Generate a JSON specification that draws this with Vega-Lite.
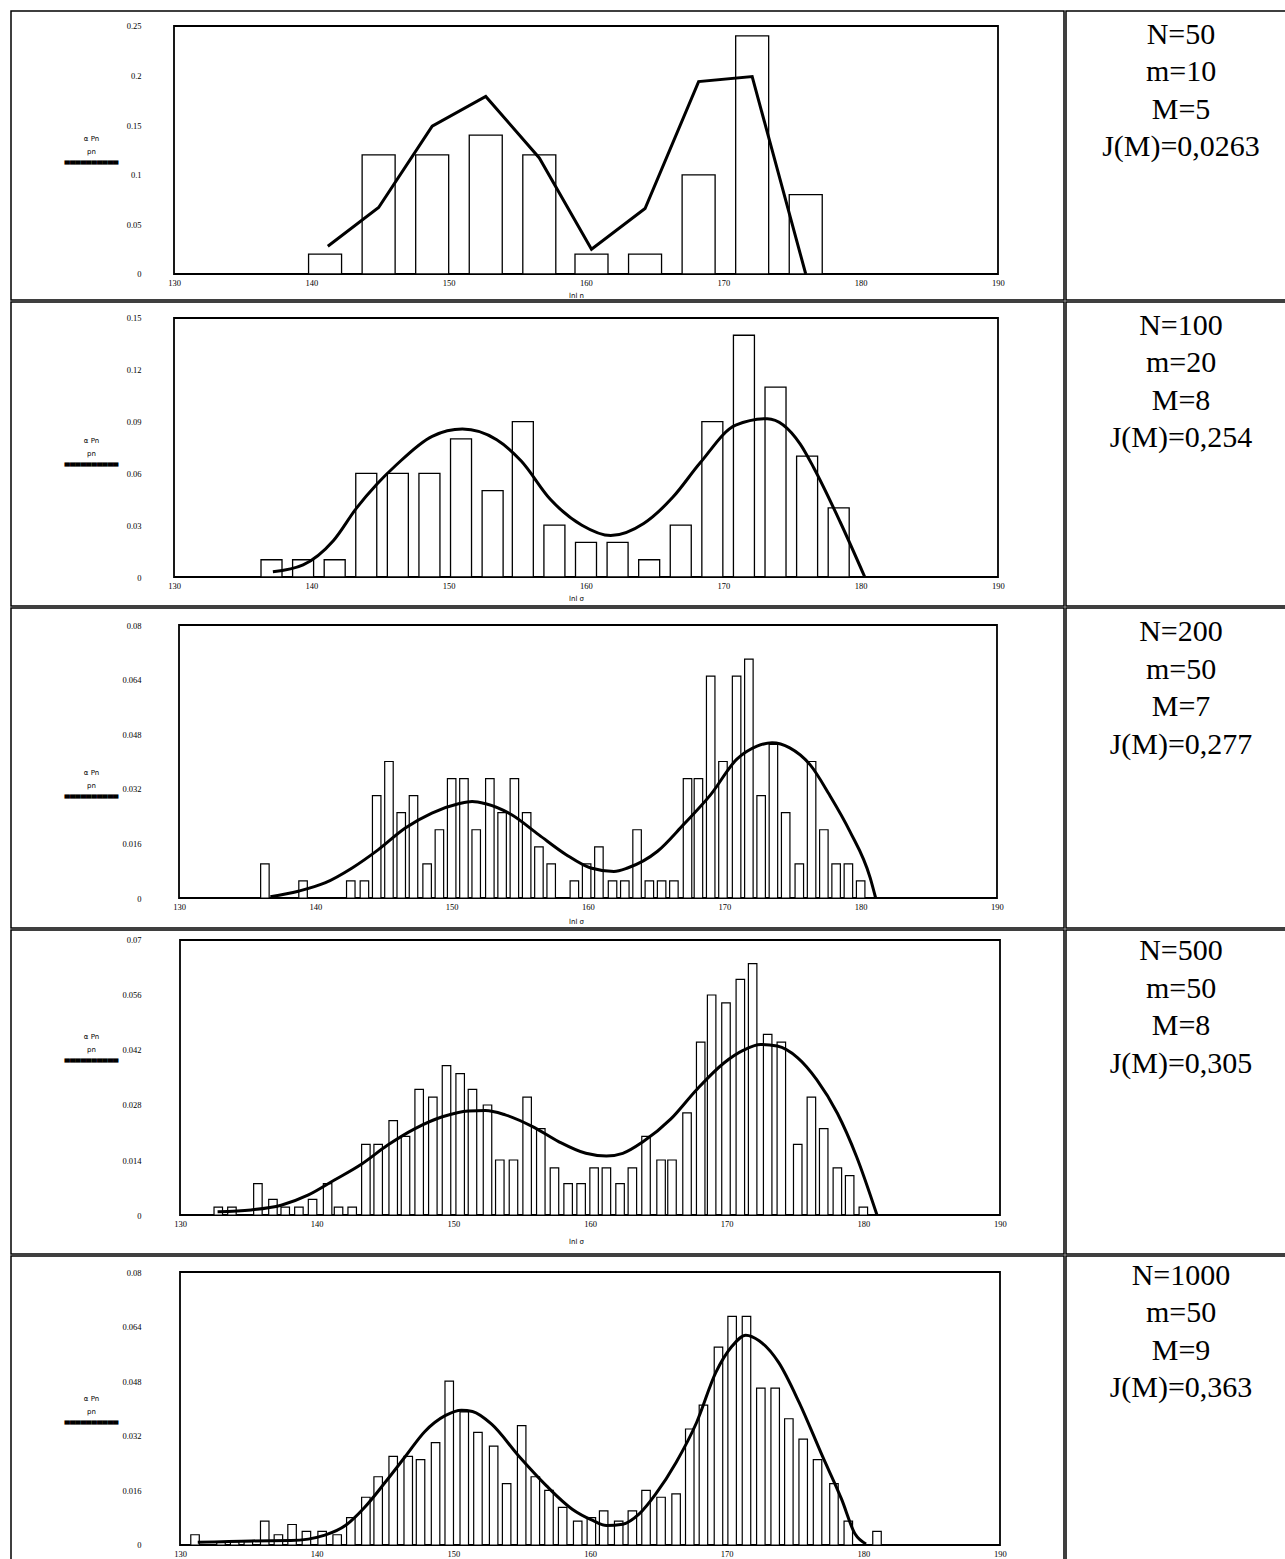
{
  "$schema": "https://vega.github.io/schema/vega-lite/v6.json",
  "background": "white",
  "padding": {"left": 10, "top": 10, "right": 0, "bottom": 0},
  "spacing": 0,
  "config": {
    "view": {"stroke": "black", "strokeWidth": 1.5},
    "concat": {"spacing": 0},
    "scale": {"continuousPadding": 0},
    "axis": {"zindex": 2, "domain": false, "ticks": false, "grid": false, "labelFont": "Liberation Serif", "labelFontSize": 8.5, "labelColor": "black", "titleFont": "DejaVu Sans", "titleFontWeight": "normal", "titleFontSize": 7, "titleColor": "black", "labelAngle": 0}
  },
  "datasets": {
    "hist": [
      {"row":1,"x":141.0,"p":0.02},{"row":1,"x":144.9,"p":0.12},{"row":1,"x":148.8,"p":0.12},{"row":1,"x":152.7,"p":0.14},{"row":1,"x":156.6,"p":0.12},{"row":1,"x":160.4,"p":0.02},{"row":1,"x":164.3,"p":0.02},{"row":1,"x":168.2,"p":0.10},{"row":1,"x":172.1,"p":0.24},{"row":1,"x":176.0,"p":0.08},
      {"row":2,"x":137.1,"p":0.01},{"row":2,"x":139.4,"p":0.01},{"row":2,"x":141.7,"p":0.01},{"row":2,"x":144.0,"p":0.06},{"row":2,"x":146.3,"p":0.06},{"row":2,"x":148.6,"p":0.06},{"row":2,"x":150.9,"p":0.08},{"row":2,"x":153.2,"p":0.05},{"row":2,"x":155.4,"p":0.09},{"row":2,"x":157.7,"p":0.03},{"row":2,"x":160.0,"p":0.02},{"row":2,"x":162.3,"p":0.02},{"row":2,"x":164.6,"p":0.01},{"row":2,"x":166.9,"p":0.03},{"row":2,"x":169.2,"p":0.09},{"row":2,"x":171.5,"p":0.14},{"row":2,"x":173.8,"p":0.11},{"row":2,"x":176.1,"p":0.07},{"row":2,"x":178.4,"p":0.04},
      {"row":3,"x":136.3,"p":0.01},{"row":3,"x":139.1,"p":0.005},{"row":3,"x":142.6,"p":0.005},{"row":3,"x":143.6,"p":0.005},{"row":3,"x":144.5,"p":0.03},{"row":3,"x":145.4,"p":0.04},{"row":3,"x":146.3,"p":0.025},{"row":3,"x":147.2,"p":0.03},{"row":3,"x":148.2,"p":0.01},{"row":3,"x":149.1,"p":0.02},{"row":3,"x":150.0,"p":0.035},{"row":3,"x":150.9,"p":0.035},{"row":3,"x":151.8,"p":0.02},{"row":3,"x":152.8,"p":0.035},{"row":3,"x":153.7,"p":0.025},{"row":3,"x":154.6,"p":0.035},{"row":3,"x":155.5,"p":0.025},{"row":3,"x":156.4,"p":0.015},{"row":3,"x":157.3,"p":0.01},{"row":3,"x":159.0,"p":0.005},{"row":3,"x":159.9,"p":0.01},{"row":3,"x":160.8,"p":0.015},{"row":3,"x":161.8,"p":0.005},{"row":3,"x":162.7,"p":0.005},{"row":3,"x":163.6,"p":0.02},{"row":3,"x":164.5,"p":0.005},{"row":3,"x":165.4,"p":0.005},{"row":3,"x":166.3,"p":0.005},{"row":3,"x":167.3,"p":0.035},{"row":3,"x":168.1,"p":0.035},{"row":3,"x":169.0,"p":0.065},{"row":3,"x":169.9,"p":0.04},{"row":3,"x":170.9,"p":0.065},{"row":3,"x":171.8,"p":0.07},{"row":3,"x":172.7,"p":0.03},{"row":3,"x":173.6,"p":0.045},{"row":3,"x":174.5,"p":0.025},{"row":3,"x":175.5,"p":0.01},{"row":3,"x":176.4,"p":0.04},{"row":3,"x":177.3,"p":0.02},{"row":3,"x":178.2,"p":0.01},{"row":3,"x":179.1,"p":0.01},{"row":3,"x":180.0,"p":0.005},
      {"row":4,"x":132.8,"p":0.002},{"row":4,"x":133.8,"p":0.002},{"row":4,"x":135.7,"p":0.008},{"row":4,"x":136.8,"p":0.004},{"row":4,"x":137.7,"p":0.002},{"row":4,"x":138.7,"p":0.002},{"row":4,"x":139.7,"p":0.004},{"row":4,"x":140.8,"p":0.008},{"row":4,"x":141.6,"p":0.002},{"row":4,"x":142.6,"p":0.002},{"row":4,"x":143.6,"p":0.018},{"row":4,"x":144.5,"p":0.018},{"row":4,"x":145.6,"p":0.024},{"row":4,"x":146.5,"p":0.02},{"row":4,"x":147.5,"p":0.032},{"row":4,"x":148.5,"p":0.03},{"row":4,"x":149.5,"p":0.038},{"row":4,"x":150.5,"p":0.036},{"row":4,"x":151.4,"p":0.032},{"row":4,"x":152.5,"p":0.028},{"row":4,"x":153.4,"p":0.014},{"row":4,"x":154.4,"p":0.014},{"row":4,"x":155.4,"p":0.03},{"row":4,"x":156.4,"p":0.022},{"row":4,"x":157.4,"p":0.012},{"row":4,"x":158.4,"p":0.008},{"row":4,"x":159.35,"p":0.008},{"row":4,"x":160.3,"p":0.012},{"row":4,"x":161.2,"p":0.012},{"row":4,"x":162.2,"p":0.008},{"row":4,"x":163.1,"p":0.012},{"row":4,"x":164.1,"p":0.02},{"row":4,"x":165.2,"p":0.014},{"row":4,"x":166.0,"p":0.014},{"row":4,"x":167.1,"p":0.026},{"row":4,"x":168.1,"p":0.044},{"row":4,"x":168.9,"p":0.056},{"row":4,"x":169.95,"p":0.054},{"row":4,"x":171.0,"p":0.06},{"row":4,"x":171.9,"p":0.064},{"row":4,"x":173.0,"p":0.046},{"row":4,"x":174.0,"p":0.044},{"row":4,"x":175.2,"p":0.018},{"row":4,"x":176.2,"p":0.03},{"row":4,"x":177.1,"p":0.022},{"row":4,"x":178.1,"p":0.012},{"row":4,"x":179.0,"p":0.01},{"row":4,"x":180.0,"p":0.002},
      {"row":5,"x":131.1,"p":0.003},{"row":5,"x":133.0,"p":0.001},{"row":5,"x":134.0,"p":0.001},{"row":5,"x":135.0,"p":0.001},{"row":5,"x":136.2,"p":0.007},{"row":5,"x":137.2,"p":0.003},{"row":5,"x":138.2,"p":0.006},{"row":5,"x":139.25,"p":0.004},{"row":5,"x":140.4,"p":0.004},{"row":5,"x":141.5,"p":0.003},{"row":5,"x":142.5,"p":0.008},{"row":5,"x":143.6,"p":0.014},{"row":5,"x":144.5,"p":0.02},{"row":5,"x":145.6,"p":0.026},{"row":5,"x":146.7,"p":0.026},{"row":5,"x":147.6,"p":0.025},{"row":5,"x":148.7,"p":0.03},{"row":5,"x":149.7,"p":0.048},{"row":5,"x":150.8,"p":0.039},{"row":5,"x":151.8,"p":0.033},{"row":5,"x":152.95,"p":0.029},{"row":5,"x":153.9,"p":0.018},{"row":5,"x":155.0,"p":0.035},{"row":5,"x":156.0,"p":0.02},{"row":5,"x":157.0,"p":0.016},{"row":5,"x":158.0,"p":0.011},{"row":5,"x":159.1,"p":0.007},{"row":5,"x":160.1,"p":0.008},{"row":5,"x":161.0,"p":0.01},{"row":5,"x":162.1,"p":0.007},{"row":5,"x":163.1,"p":0.01},{"row":5,"x":164.1,"p":0.016},{"row":5,"x":165.2,"p":0.014},{"row":5,"x":166.3,"p":0.015},{"row":5,"x":167.3,"p":0.034},{"row":5,"x":168.3,"p":0.041},{"row":5,"x":169.4,"p":0.058},{"row":5,"x":170.4,"p":0.067},{"row":5,"x":171.45,"p":0.067},{"row":5,"x":172.5,"p":0.046},{"row":5,"x":173.55,"p":0.046},{"row":5,"x":174.55,"p":0.037},{"row":5,"x":175.6,"p":0.031},{"row":5,"x":176.65,"p":0.025},{"row":5,"x":177.85,"p":0.018},{"row":5,"x":178.9,"p":0.007},{"row":5,"x":181.0,"p":0.004}
    ],
    "curve": [
      {"row":1,"x":141.2,"p":0.028},{"row":1,"x":144.9,"p":0.067},{"row":1,"x":148.8,"p":0.149},{"row":1,"x":152.7,"p":0.179},{"row":1,"x":156.6,"p":0.117},{"row":1,"x":160.4,"p":0.025},{"row":1,"x":164.3,"p":0.066},{"row":1,"x":168.2,"p":0.194},{"row":1,"x":172.1,"p":0.199},{"row":1,"x":176.0,"p":0.0},
      {"row":2,"x":137.2,"p":0.003},{"row":2,"x":139.4,"p":0.007},{"row":2,"x":141.6,"p":0.021},{"row":2,"x":143.3,"p":0.040},{"row":2,"x":144.8,"p":0.054},{"row":2,"x":146.2,"p":0.065},{"row":2,"x":148.8,"p":0.0815},{"row":2,"x":151.0,"p":0.0857},{"row":2,"x":153.5,"p":0.0795},{"row":2,"x":155.3,"p":0.067},{"row":2,"x":157.4,"p":0.045},{"row":2,"x":159.7,"p":0.030},{"row":2,"x":161.8,"p":0.024},{"row":2,"x":164.2,"p":0.031},{"row":2,"x":166.3,"p":0.046},{"row":2,"x":168.3,"p":0.066},{"row":2,"x":170.9,"p":0.088},{"row":2,"x":173.2,"p":0.0917},{"row":2,"x":175.6,"p":0.077},{"row":2,"x":176.6,"p":0.063},{"row":2,"x":178.5,"p":0.032},{"row":2,"x":180.3,"p":0.0},
      {"row":3,"x":136.7,"p":0.0004},{"row":3,"x":138.75,"p":0.002},{"row":3,"x":140.7,"p":0.0044},{"row":3,"x":142.7,"p":0.0088},{"row":3,"x":144.6,"p":0.0141},{"row":3,"x":146.6,"p":0.0205},{"row":3,"x":148.55,"p":0.0249},{"row":3,"x":150.5,"p":0.0276},{"row":3,"x":151.5,"p":0.0283},{"row":3,"x":152.5,"p":0.0276},{"row":3,"x":154.4,"p":0.0244},{"row":3,"x":156.4,"p":0.0185},{"row":3,"x":158.4,"p":0.0127},{"row":3,"x":160.2,"p":0.0088},{"row":3,"x":161.9,"p":0.0078},{"row":3,"x":162.9,"p":0.0088},{"row":3,"x":165.1,"p":0.0137},{"row":3,"x":167.0,"p":0.0215},{"row":3,"x":169.0,"p":0.0303},{"row":3,"x":170.9,"p":0.0406},{"row":3,"x":172.4,"p":0.0445},{"row":3,"x":173.5,"p":0.0455},{"row":3,"x":174.8,"p":0.044},{"row":3,"x":176.3,"p":0.039},{"row":3,"x":177.7,"p":0.0303},{"row":3,"x":179.2,"p":0.0196},{"row":3,"x":180.7,"p":0.0059},{"row":3,"x":181.1,"p":0.0},
      {"row":4,"x":132.75,"p":0.0008},{"row":4,"x":135.2,"p":0.0013},{"row":4,"x":137.4,"p":0.0025},{"row":4,"x":139.4,"p":0.0051},{"row":4,"x":141.3,"p":0.0089},{"row":4,"x":143.3,"p":0.013},{"row":4,"x":145.2,"p":0.0178},{"row":4,"x":147.2,"p":0.022},{"row":4,"x":149.2,"p":0.025},{"row":4,"x":151.1,"p":0.0265},{"row":4,"x":152.35,"p":0.0266},{"row":4,"x":153.8,"p":0.0255},{"row":4,"x":155.8,"p":0.0225},{"row":4,"x":157.7,"p":0.0187},{"row":4,"x":159.7,"p":0.0157},{"row":4,"x":161.2,"p":0.015},{"row":4,"x":162.4,"p":0.0157},{"row":4,"x":163.9,"p":0.0187},{"row":4,"x":165.9,"p":0.0244},{"row":4,"x":167.8,"p":0.0319},{"row":4,"x":169.8,"p":0.0387},{"row":4,"x":171.2,"p":0.0419},{"row":4,"x":172.5,"p":0.0434},{"row":4,"x":173.7,"p":0.043},{"row":4,"x":175.2,"p":0.040},{"row":4,"x":176.6,"p":0.0344},{"row":4,"x":178.1,"p":0.0259},{"row":4,"x":179.5,"p":0.0149},{"row":4,"x":181.0,"p":0.0},
      {"row":5,"x":131.3,"p":0.0008},{"row":5,"x":135.2,"p":0.0012},{"row":5,"x":138.1,"p":0.0013},{"row":5,"x":140.6,"p":0.0029},{"row":5,"x":142.1,"p":0.0057},{"row":5,"x":143.5,"p":0.011},{"row":5,"x":145.0,"p":0.0183},{"row":5,"x":146.5,"p":0.026},{"row":5,"x":147.9,"p":0.0332},{"row":5,"x":149.4,"p":0.0379},{"row":5,"x":150.6,"p":0.0395},{"row":5,"x":151.4,"p":0.0391},{"row":5,"x":152.8,"p":0.0354},{"row":5,"x":154.8,"p":0.026},{"row":5,"x":156.8,"p":0.0174},{"row":5,"x":158.7,"p":0.0105},{"row":5,"x":160.2,"p":0.0072},{"row":5,"x":161.2,"p":0.0057},{"row":5,"x":162.4,"p":0.0061},{"row":5,"x":163.6,"p":0.0091},{"row":5,"x":164.8,"p":0.0149},{"row":5,"x":166.3,"p":0.0242},{"row":5,"x":167.8,"p":0.0359},{"row":5,"x":169.2,"p":0.0505},{"row":5,"x":170.4,"p":0.0583},{"row":5,"x":171.4,"p":0.0615},{"row":5,"x":172.4,"p":0.0598},{"row":5,"x":173.8,"p":0.0535},{"row":5,"x":175.3,"p":0.0418},{"row":5,"x":177.0,"p":0.0261},{"row":5,"x":178.4,"p":0.0135},{"row":5,"x":179.4,"p":0.0032},{"row":5,"x":180.2,"p":0.0003}
    ],
    "stats": [
      {"row":1,"line":1,"text":"N=50"},{"row":1,"line":2,"text":"m=10"},{"row":1,"line":3,"text":"M=5"},{"row":1,"line":4,"text":"J(M)=0,0263"},
      {"row":2,"line":1,"text":"N=100"},{"row":2,"line":2,"text":"m=20"},{"row":2,"line":3,"text":"M=8"},{"row":2,"line":4,"text":"J(M)=0,254"},
      {"row":3,"line":1,"text":"N=200"},{"row":3,"line":2,"text":"m=50"},{"row":3,"line":3,"text":"M=7"},{"row":3,"line":4,"text":"J(M)=0,277"},
      {"row":4,"line":1,"text":"N=500"},{"row":4,"line":2,"text":"m=50"},{"row":4,"line":3,"text":"M=8"},{"row":4,"line":4,"text":"J(M)=0,305"},
      {"row":5,"line":1,"text":"N=1000"},{"row":5,"line":2,"text":"m=50"},{"row":5,"line":3,"text":"M=9"},{"row":5,"line":4,"text":"J(M)=0,363"}
    ]
  },
  "vconcat": [
    {
      "spacing": 0,
      "hconcat": [
        {
          "width": 1053, "height": 289,
          "resolve": {"axis": {"x": "independent", "y": "independent"}},
          "layer": [
            {"data": {"values": [{}]}, "mark": {"type": "rect", "fillOpacity": 0, "stroke": "black", "strokeWidth": 1.8},
             "encoding": {"x": {"datum": 130, "type": "quantitative", "scale": {"domain": [118.131, 194.806], "nice": false, "zero": false}, "axis": null}, "x2": {"datum": 190},
                          "y": {"datum": 0, "type": "quantitative", "scale": {"domain": [-0.02621, 0.26512], "nice": false, "zero": false}, "axis": null}, "y2": {"datum": 0.25}}},
            {"data": {"name": "hist"}, "transform": [{"filter": "datum.row == 1"}], "mark": {"type": "bar", "size": 33, "fill": "white", "stroke": "black", "strokeWidth": 1.3},
             "encoding": {"x": {"field": "x", "type": "quantitative", "scale": {"domain": [118.131, 194.806], "nice": false, "zero": false},
                                "axis": {"values": [130,140,150,160,170,180,190], "offset": -26, "labelPadding": 4, "labelDx": -6, "title": "lnl    n", "titleX": 565, "titleY": 21, "titleBaseline": "middle"}},
                          "y": {"field": "p", "type": "quantitative", "scale": {"domain": [-0.02621, 0.26512], "nice": false, "zero": false},
                                "axis": {"values": [0,0.05,0.1,0.15,0.2,0.25], "format": ".3~g", "offset": -130, "labelPadding": 0, "title": ["α  Pn", "pn", "▀▀▀▀▀▀▀▀▀▀"], "titleAngle": 0, "titleX": -50, "titleY": 123, "titleAlign": "center", "titleBaseline": "top", "titleLineHeight": 13}},
                          "y2": {"datum": 0}}},
            {"data": {"name": "curve"}, "transform": [{"filter": "datum.row == 1"}], "mark": {"type": "line", "color": "black", "strokeWidth": 3, "interpolate": "linear"},
             "encoding": {"x": {"field": "x", "type": "quantitative", "scale": {"domain": [118.131, 194.806], "nice": false, "zero": false}, "axis": null},
                          "y": {"field": "p", "type": "quantitative", "scale": {"domain": [-0.02621, 0.26512], "nice": false, "zero": false}, "axis": null}}}
          ]
        },
        {
          "width": 222, "height": 289,
          "data": {"name": "stats"}, "transform": [{"filter": "datum.row == 1"}],
          "mark": {"type": "text", "font": "Liberation Serif", "fontSize": 30, "align": "center", "baseline": "middle", "dx": 4, "color": "black"},
          "encoding": {"y": {"field": "line", "type": "quantitative", "scale": {"domain": [0.36, 8.0667], "reverse": true, "nice": false, "zero": false}, "axis": null}, "text": {"field": "text"}}
        }
      ]
    },
    {
      "spacing": 0,
      "hconcat": [
        {
          "width": 1053, "height": 304,
          "resolve": {"axis": {"x": "independent", "y": "independent"}},
          "layer": [
            {"data": {"values": [{}]}, "mark": {"type": "rect", "fillOpacity": 0, "stroke": "black", "strokeWidth": 1.8},
             "encoding": {"x": {"datum": 130, "type": "quantitative", "scale": {"domain": [118.131, 194.806], "nice": false, "zero": false}, "axis": null}, "x2": {"datum": 190},
                          "y": {"datum": 0, "type": "quantitative", "scale": {"domain": [-0.016795, 0.159266], "nice": false, "zero": false}, "axis": null}, "y2": {"datum": 0.15}}},
            {"data": {"name": "hist"}, "transform": [{"filter": "datum.row == 2"}], "mark": {"type": "bar", "size": 21, "fill": "white", "stroke": "black", "strokeWidth": 1.3},
             "encoding": {"x": {"field": "x", "type": "quantitative", "scale": {"domain": [118.131, 194.806], "nice": false, "zero": false},
                                "axis": {"values": [130,140,150,160,170,180,190], "offset": -29, "labelPadding": 4, "labelDx": -6, "title": "lnl    σ", "titleX": 565, "titleY": 21, "titleBaseline": "middle"}},
                          "y": {"field": "p", "type": "quantitative", "scale": {"domain": [-0.016795, 0.159266], "nice": false, "zero": false},
                                "axis": {"values": [0,0.03,0.06,0.09,0.12,0.15], "format": ".3~g", "offset": -130, "labelPadding": 0, "title": ["α  Pn", "pn", "▀▀▀▀▀▀▀▀▀▀"], "titleAngle": 0, "titleX": -50, "titleY": 134, "titleAlign": "center", "titleBaseline": "top", "titleLineHeight": 13}},
                          "y2": {"datum": 0}}},
            {"data": {"name": "curve"}, "transform": [{"filter": "datum.row == 2"}], "mark": {"type": "line", "color": "black", "strokeWidth": 3, "interpolate": "monotone"},
             "encoding": {"x": {"field": "x", "type": "quantitative", "scale": {"domain": [118.131, 194.806], "nice": false, "zero": false}, "axis": null},
                          "y": {"field": "p", "type": "quantitative", "scale": {"domain": [-0.016795, 0.159266], "nice": false, "zero": false}, "axis": null}}}
          ]
        },
        {
          "width": 222, "height": 304,
          "data": {"name": "stats"}, "transform": [{"filter": "datum.row == 2"}],
          "mark": {"type": "text", "font": "Liberation Serif", "fontSize": 30, "align": "center", "baseline": "middle", "dx": 4, "color": "black"},
          "encoding": {"y": {"field": "line", "type": "quantitative", "scale": {"domain": [0.36, 8.4667], "reverse": true, "nice": false, "zero": false}, "axis": null}, "text": {"field": "text"}}
        }
      ]
    },
    {
      "spacing": 0,
      "hconcat": [
        {
          "width": 1053, "height": 320,
          "resolve": {"axis": {"x": "independent", "y": "independent"}},
          "layer": [
            {"data": {"values": [{}]}, "mark": {"type": "rect", "fillOpacity": 0, "stroke": "black", "strokeWidth": 1.8},
             "encoding": {"x": {"datum": 130, "type": "quantitative", "scale": {"domain": [117.677, 194.915], "nice": false, "zero": false}, "axis": null}, "x2": {"datum": 190},
                          "y": {"datum": 0, "type": "quantitative", "scale": {"domain": [-0.008791, 0.084982], "nice": false, "zero": false}, "axis": null}, "y2": {"datum": 0.08}}},
            {"data": {"name": "hist"}, "transform": [{"filter": "datum.row == 3"}], "mark": {"type": "bar", "size": 8.5, "fill": "white", "stroke": "black", "strokeWidth": 1.2},
             "encoding": {"x": {"field": "x", "type": "quantitative", "scale": {"domain": [117.677, 194.915], "nice": false, "zero": false},
                                "axis": {"values": [130,140,150,160,170,180,190], "offset": -30, "labelPadding": 4, "labelDx": -6, "title": "lnl    σ", "titleX": 565, "titleY": 23, "titleBaseline": "middle"}},
                          "y": {"field": "p", "type": "quantitative", "scale": {"domain": [-0.008791, 0.084982], "nice": false, "zero": false},
                                "axis": {"values": [0,0.016,0.032,0.048,0.064,0.08], "format": ".3~g", "offset": -130, "labelPadding": 0, "title": ["α  Pn", "pn", "▀▀▀▀▀▀▀▀▀▀"], "titleAngle": 0, "titleX": -50, "titleY": 160, "titleAlign": "center", "titleBaseline": "top", "titleLineHeight": 13}},
                          "y2": {"datum": 0}}},
            {"data": {"name": "curve"}, "transform": [{"filter": "datum.row == 3"}], "mark": {"type": "line", "color": "black", "strokeWidth": 3, "interpolate": "monotone"},
             "encoding": {"x": {"field": "x", "type": "quantitative", "scale": {"domain": [117.677, 194.915], "nice": false, "zero": false}, "axis": null},
                          "y": {"field": "p", "type": "quantitative", "scale": {"domain": [-0.008791, 0.084982], "nice": false, "zero": false}, "axis": null}}}
          ]
        },
        {
          "width": 222, "height": 320,
          "data": {"name": "stats"}, "transform": [{"filter": "datum.row == 3"}],
          "mark": {"type": "text", "font": "Liberation Serif", "fontSize": 30, "align": "center", "baseline": "middle", "dx": 4, "color": "black"},
          "encoding": {"y": {"field": "line", "type": "quantitative", "scale": {"domain": [0.36, 8.8933], "reverse": true, "nice": false, "zero": false}, "axis": null}, "text": {"field": "text"}}
        }
      ]
    },
    {
      "spacing": 0,
      "hconcat": [
        {
          "width": 1053, "height": 324,
          "resolve": {"axis": {"x": "independent", "y": "independent"}},
          "layer": [
            {"data": {"values": [{}]}, "mark": {"type": "rect", "fillOpacity": 0, "stroke": "black", "strokeWidth": 1.8},
             "encoding": {"x": {"datum": 130, "type": "quantitative", "scale": {"domain": [117.634, 194.683], "nice": false, "zero": false}, "axis": null}, "x2": {"datum": 190},
                          "y": {"datum": 0, "type": "quantitative", "scale": {"domain": [-0.009927, 0.072545], "nice": false, "zero": false}, "axis": null}, "y2": {"datum": 0.07}}},
            {"data": {"name": "hist"}, "transform": [{"filter": "datum.row == 4"}], "mark": {"type": "bar", "size": 8.5, "fill": "white", "stroke": "black", "strokeWidth": 1.2},
             "encoding": {"x": {"field": "x", "type": "quantitative", "scale": {"domain": [117.634, 194.683], "nice": false, "zero": false},
                                "axis": {"values": [130,140,150,160,170,180,190], "offset": -39, "labelPadding": 4, "labelDx": -6, "title": "lnl    σ", "titleX": 565, "titleY": 26, "titleBaseline": "middle"}},
                          "y": {"field": "p", "type": "quantitative", "scale": {"domain": [-0.009927, 0.072545], "nice": false, "zero": false},
                                "axis": {"values": [0,0.014,0.028,0.042,0.056,0.07], "format": ".3~g", "offset": -130, "labelPadding": 0, "title": ["α  Pn", "pn", "▀▀▀▀▀▀▀▀▀▀"], "titleAngle": 0, "titleX": -50, "titleY": 102, "titleAlign": "center", "titleBaseline": "top", "titleLineHeight": 13}},
                          "y2": {"datum": 0}}},
            {"data": {"name": "curve"}, "transform": [{"filter": "datum.row == 4"}], "mark": {"type": "line", "color": "black", "strokeWidth": 3, "interpolate": "monotone"},
             "encoding": {"x": {"field": "x", "type": "quantitative", "scale": {"domain": [117.634, 194.683], "nice": false, "zero": false}, "axis": null},
                          "y": {"field": "p", "type": "quantitative", "scale": {"domain": [-0.009927, 0.072545], "nice": false, "zero": false}, "axis": null}}}
          ]
        },
        {
          "width": 222, "height": 324,
          "data": {"name": "stats"}, "transform": [{"filter": "datum.row == 4"}],
          "mark": {"type": "text", "font": "Liberation Serif", "fontSize": 30, "align": "center", "baseline": "middle", "dx": 4, "color": "black"},
          "encoding": {"y": {"field": "line", "type": "quantitative", "scale": {"domain": [0.44, 9.08], "reverse": true, "nice": false, "zero": false}, "axis": null}, "text": {"field": "text"}}
        }
      ]
    },
    {
      "spacing": 0,
      "hconcat": [
        {
          "width": 1053, "height": 312,
          "resolve": {"axis": {"x": "independent", "y": "independent"}},
          "layer": [
            {"data": {"values": [{}]}, "mark": {"type": "rect", "fillOpacity": 0, "stroke": "black", "strokeWidth": 1.8},
             "encoding": {"x": {"datum": 130, "type": "quantitative", "scale": {"domain": [117.634, 194.683], "nice": false, "zero": false}, "axis": null}, "x2": {"datum": 190},
                          "y": {"datum": 0, "type": "quantitative", "scale": {"domain": [-0.00674, 0.084689], "nice": false, "zero": false}, "axis": null}, "y2": {"datum": 0.08}}},
            {"data": {"name": "hist"}, "transform": [{"filter": "datum.row == 5"}], "mark": {"type": "bar", "size": 8.5, "fill": "white", "stroke": "black", "strokeWidth": 1.2},
             "encoding": {"x": {"field": "x", "type": "quantitative", "scale": {"domain": [117.634, 194.683], "nice": false, "zero": false},
                                "axis": {"values": [130,140,150,160,170,180,190], "offset": -23, "labelPadding": 4, "labelDx": -6, "title": null}},
                          "y": {"field": "p", "type": "quantitative", "scale": {"domain": [-0.00674, 0.084689], "nice": false, "zero": false},
                                "axis": {"values": [0,0.016,0.032,0.048,0.064,0.08], "format": ".3~g", "offset": -130, "labelPadding": 0, "title": ["α  Pn", "pn", "▀▀▀▀▀▀▀▀▀▀"], "titleAngle": 0, "titleX": -50, "titleY": 138, "titleAlign": "center", "titleBaseline": "top", "titleLineHeight": 13}},
                          "y2": {"datum": 0}}},
            {"data": {"name": "curve"}, "transform": [{"filter": "datum.row == 5"}], "mark": {"type": "line", "color": "black", "strokeWidth": 3, "interpolate": "monotone"},
             "encoding": {"x": {"field": "x", "type": "quantitative", "scale": {"domain": [117.634, 194.683], "nice": false, "zero": false}, "axis": null},
                          "y": {"field": "p", "type": "quantitative", "scale": {"domain": [-0.00674, 0.084689], "nice": false, "zero": false}, "axis": null}}}
          ]
        },
        {
          "width": 222, "height": 312,
          "data": {"name": "stats"}, "transform": [{"filter": "datum.row == 5"}],
          "mark": {"type": "text", "font": "Liberation Serif", "fontSize": 30, "align": "center", "baseline": "middle", "dx": 4, "color": "black"},
          "encoding": {"y": {"field": "line", "type": "quantitative", "scale": {"domain": [0.4667, 8.7867], "reverse": true, "nice": false, "zero": false}, "axis": null}, "text": {"field": "text"}}
        }
      ]
    }
  ]
}
